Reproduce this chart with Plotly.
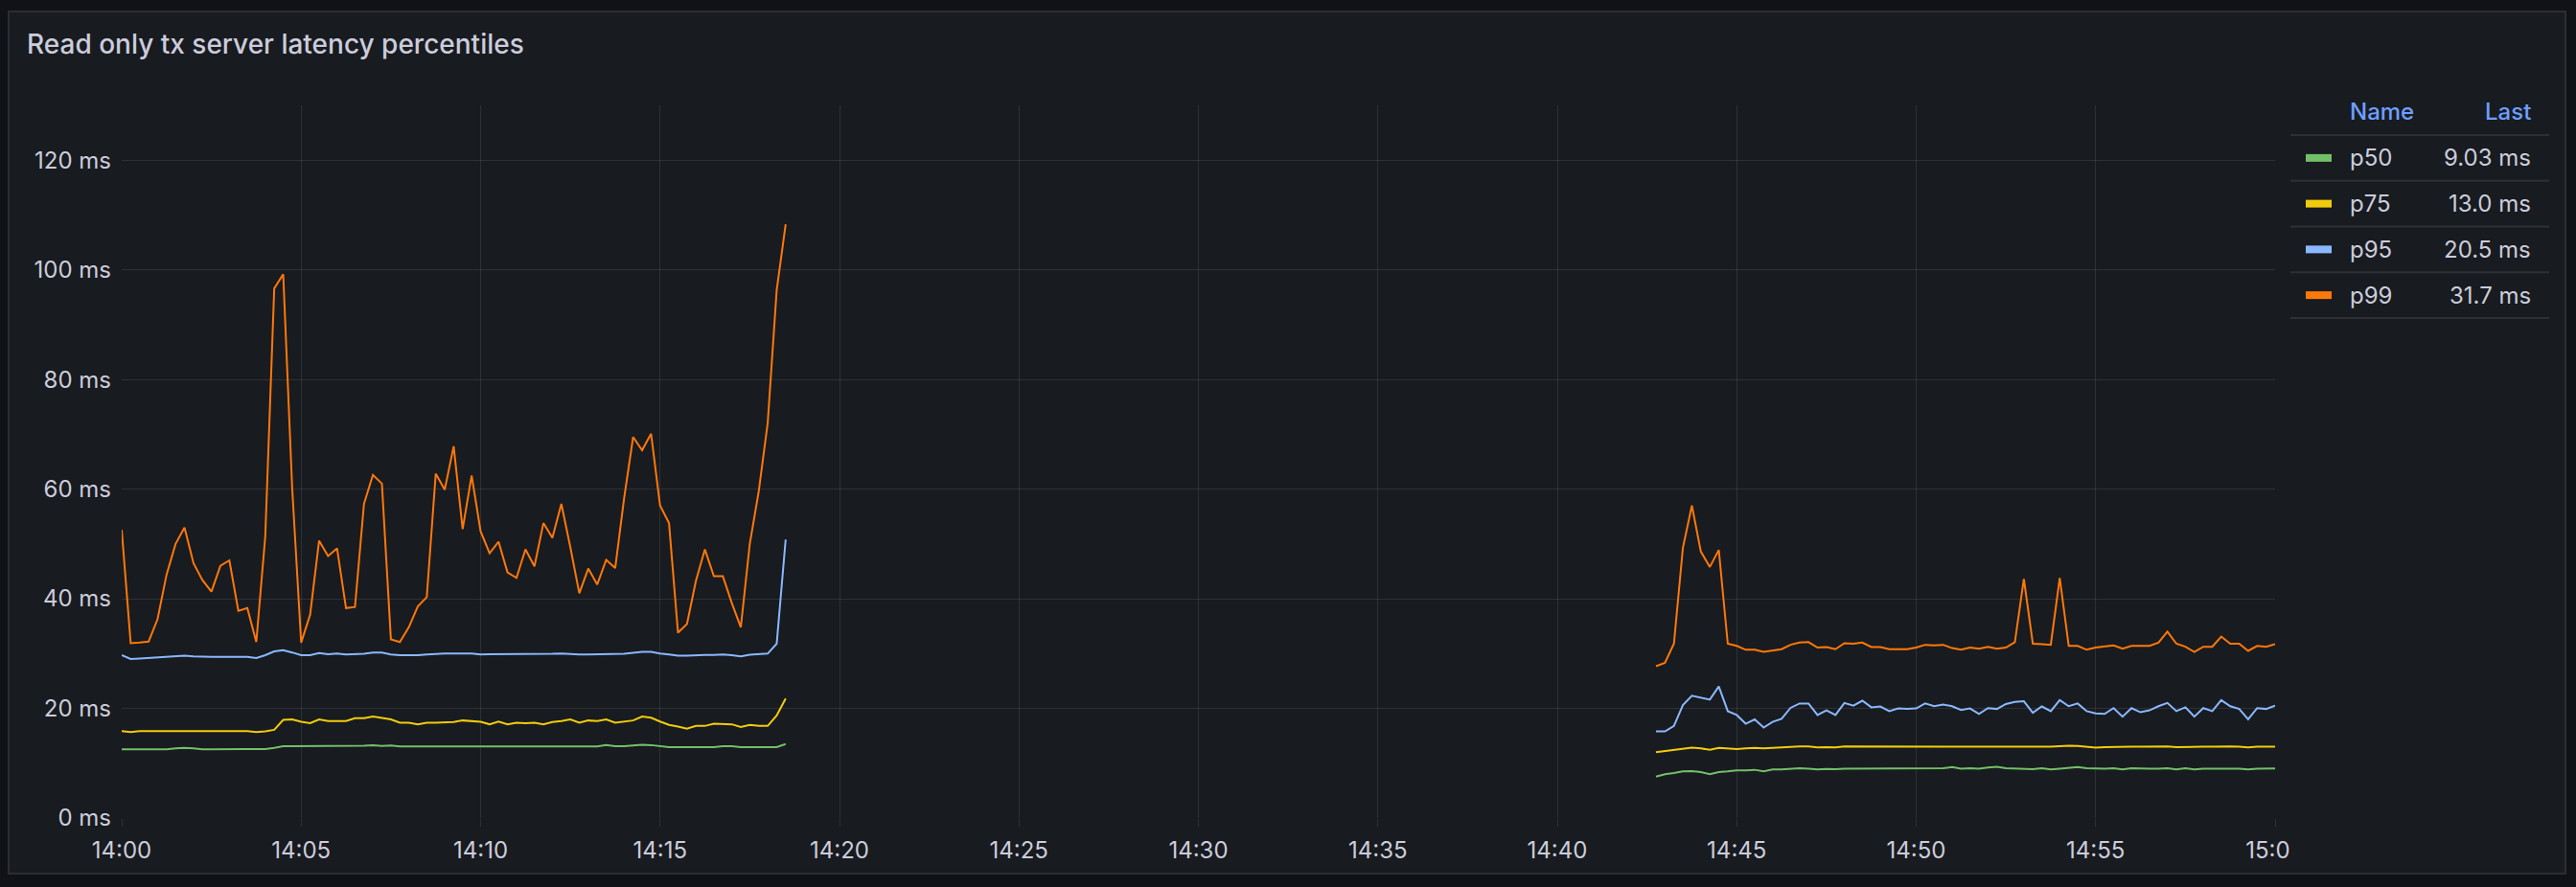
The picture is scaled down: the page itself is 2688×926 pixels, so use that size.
import math
import pandas as pd
import plotly.graph_objects as go

# ---- data ----
title = "Read only tx server latency percentiles"
series_names = ["p50", "p75", "p95", "p99"]
series_colors = ["#73BF69", "#F2CC0C", "#8AB8FF", "#FF780A"]

# two runs, 15 s scrape interval
t_run1 = pd.date_range("2024-01-01 14:00:00", "2024-01-01 14:18:30", freq="15s")
t_run2 = pd.date_range("2024-01-01 14:42:45", "2024-01-01 15:00:00", freq="15s")

p50_run1 = [12.55, 12.55, 12.55, 12.55, 12.55, 12.55, 12.7, 12.8, 12.7, 12.55,
            12.55, 12.55, 12.55, 12.55, 12.55, 12.55, 12.6, 12.8, 13.1, 13.1,
            13.1, 13.1, 13.1, 13.1, 13.1, 13.1, 13.1, 13.2, 13.3, 13.15,
            13.25, 13.05, 13.05, 13.05, 13.05, 13.05, 13.05, 13.05, 13.05, 13.05,
            13.05, 12.95, 13.05, 13.05, 13.05, 13.05, 13.05, 13.05, 13.0, 13.05,
            13.05, 13.05, 13.05, 13.05, 13.3, 13.1, 13.1, 13.2, 13.35, 13.3,
            13.1, 12.95, 12.95, 12.95, 12.95, 12.95, 12.95, 13.1, 13.1, 12.95,
            12.95, 12.95, 12.95, 12.95, 13.5]
p75_run1 = [15.86, 15.7, 15.86, 15.86, 15.86, 15.86, 15.86, 15.86, 15.86, 15.86,
            15.86, 15.86, 15.86, 15.86, 15.86, 15.7, 15.8, 16.1, 17.9, 18.0,
            17.55, 17.3, 18.0, 17.7, 17.7, 17.7, 18.2, 18.2, 18.5, 18.2,
            18.0, 17.4, 17.4, 17.1, 17.4, 17.4, 17.4, 17.5, 17.8, 17.7,
            17.55, 17.1, 17.6, 17.1, 17.4, 17.3, 17.4, 17.1, 17.5, 17.7,
            18.0, 17.4, 17.8, 17.7, 18.0, 17.4, 17.6, 17.8, 18.5, 18.3,
            17.6, 17.0, 16.7, 16.3, 16.8, 16.8, 17.2, 17.1, 17.1, 16.6,
            17.0, 16.8, 16.8, 18.7, 21.8]
p95_run1 = [29.7, 29.0, 29.1, 29.2, 29.3, 29.5, 29.6, 29.6, 29.5, 29.4,
            29.4, 29.4, 29.4, 29.4, 29.4, 29.2, 29.7, 30.4, 30.6, 30.2,
            29.7, 29.7, 30.1, 29.9, 30.0, 29.85, 29.85, 29.95, 30.2, 30.2,
            29.85, 29.7, 29.7, 29.7, 29.85, 29.95, 30.0, 30.0, 30.0, 30.0,
            29.85, 29.85, 29.85, 29.85, 29.85, 29.85, 29.85, 29.85, 29.95, 30.0,
            29.9, 29.85, 29.85, 29.85, 29.95, 29.85, 29.95, 30.15, 30.3, 30.3,
            30.0, 29.85, 29.6, 29.6, 29.7, 29.75, 29.75, 29.85, 29.7, 29.5,
            29.8, 29.85, 30.0, 31.8, 50.8]
p99_run1 = [52.6, 31.9, 32.0, 32.2, 36.3, 44.4, 50.0, 53.0, 46.5, 43.4,
            41.3, 46.0, 47.0, 37.8, 38.3, 32.1, 51.4, 96.6, 99.2, 60.2,
            32.0, 37.1, 50.6, 47.8, 49.2, 38.3, 38.5, 57.3, 62.6, 61.0,
            32.6, 32.1, 34.8, 38.6, 40.3, 62.8, 59.9, 67.8, 52.7, 62.5,
            52.3, 48.3, 50.4, 44.8, 43.8, 49.0, 45.9, 53.8, 51.1, 57.3,
            49.4, 41.0, 45.5, 42.6, 47.1, 45.6, 58.4, 69.5, 67.1, 70.1,
            57.0, 53.8, 33.8, 35.4, 43.3, 49.0, 44.1, 44.1, 39.2, 34.8,
            50.0, 59.6, 72.1, 96.3, 108.3]

p50_run2 = [7.55, 8.0, 8.2, 8.5, 8.55, 8.4, 8.0, 8.4, 8.5, 8.7,
            8.7, 8.8, 8.5, 8.85, 8.85, 8.95, 9.1, 9.0, 8.85, 8.95,
            8.9, 9.0, 9.0, 9.1, 9.0, 9.1, 9.1, 9.1, 9.1, 9.0,
            9.1, 9.0, 9.1, 9.3, 9.0, 9.1, 9.0, 9.2, 9.35, 9.1,
            9.0, 8.95, 8.9, 9.1, 8.85, 9.0, 9.15, 9.3, 9.1, 9.0,
            9.0, 9.1, 8.85, 9.1, 9.0, 9.0, 9.0, 9.1, 8.85, 9.1,
            8.85, 9.0, 9.0, 9.05, 9.0, 9.0, 8.85, 9.0, 9.03, 9.03]
p75_run2 = [12.0, 12.2, 12.5, 12.7, 12.85, 12.7, 12.45, 12.8, 12.7, 12.6,
            12.7, 12.8, 12.7, 12.8, 12.85, 13.0, 13.05, 13.05, 12.9, 12.95,
            12.9, 13.05, 13.05, 13.05, 13.05, 13.05, 13.05, 13.05, 13.05, 13.05,
            13.05, 13.05, 13.05, 13.05, 13.05, 13.05, 12.95, 13.05, 13.0, 13.0,
            13.0, 12.95, 12.95, 13.05, 13.0, 13.1, 13.2, 13.15, 12.95, 12.85,
            12.95, 13.0, 12.95, 13.0, 13.0, 13.05, 13.05, 13.05, 12.95, 13.0,
            12.95, 13.0, 13.0, 13.05, 13.05, 13.0, 12.9, 13.0, 13.05, 13.0]
p95_run2 = [15.8, 15.8, 16.8, 20.6, 22.3, 22.0, 21.6, 24.0, 19.5, 18.8,
            17.2, 18.0, 16.5, 17.55, 18.1, 20.1, 20.9, 20.9, 18.8, 19.65,
            18.8, 21.0, 20.5, 21.4, 20.2, 20.35, 19.5, 20.0, 19.9, 20.0,
            20.9, 20.4, 20.7, 20.4, 19.7, 20.0, 19.0, 20.05, 19.9, 20.8,
            21.2, 21.3, 19.2, 20.35, 19.5, 21.5, 20.4, 20.9, 19.5, 19.1,
            19.0, 20.05, 18.5, 20.05, 19.3, 19.65, 20.4, 21.0, 19.5, 20.2,
            18.5, 20.05, 19.5, 21.5, 20.4, 19.9, 18.0, 20.05, 19.9, 20.5]
p99_run2 = [27.7, 28.3, 31.8, 49.3, 57.0, 48.6, 45.8, 48.9, 31.8, 31.4,
            30.7, 30.7, 30.3, 30.5, 30.8, 31.6, 32.0, 32.1, 31.1, 31.2,
            30.8, 31.9, 31.8, 32.0, 31.2, 31.2, 30.8, 30.8, 30.8, 31.1,
            31.6, 31.5, 31.6, 31.0, 30.7, 31.1, 30.9, 31.25, 30.9, 31.1,
            32.1, 43.6, 31.8, 31.7, 31.6, 43.8, 31.4, 31.4, 30.7, 31.1,
            31.25, 31.5, 30.9, 31.4, 31.4, 31.4, 32.0, 34.0, 31.8, 31.25,
            30.3, 31.25, 31.25, 33.1, 31.8, 31.8, 30.5, 31.4, 31.25, 31.7]

run1 = [p50_run1, p75_run1, p95_run1, p99_run1]
run2 = [p50_run2, p75_run2, p95_run2, p99_run2]

y_ticks = [0, 20, 40, 60, 80, 100, 120]
y_tick_labels = [f"{v} ms" for v in y_ticks]

# ---- page geometry (pixels) ----
W, H = 2688, 926
L, R, T, B = 127, 2374, 110, 854


def px(x):
    return (x - L) / (R - L)


def py(y):
    return (B - y) / (B - T)


def fmt_ms(v):
    dec = max(0, 2 - int(math.floor(math.log10(abs(v)))))
    return f"{v:.{dec}f} ms"


TEXT = "#ccccdc"
GRID = "rgba(204,204,220,0.12)"
PANEL = "#181b1f"

fig = go.Figure()
for name, color, a, b in zip(series_names, series_colors, run1, run2):
    fig.add_trace(go.Scatter(
        x=list(t_run1) + [None] + list(t_run2),
        y=a + [None] + b,
        name=name, mode="lines",
        line=dict(color=color, width=2),
        connectgaps=False,
    ))

shapes = [
    # panel
    dict(type="rect", xref="paper", yref="paper", layer="below",
         x0=px(9), x1=px(2677), y0=py(912), y1=py(12),
         fillcolor=PANEL, line=dict(color="#2a2d33", width=2)),
    # canvas clip of the last x label
    dict(type="rect", xref="paper", yref="paper", layer="above",
         x0=px(2390), x1=px(2668), y0=py(906), y1=py(860),
         fillcolor=PANEL, line=dict(width=0)),
]
annotations = [
    dict(text=title, xref="paper", yref="paper", x=px(26), y=py(46),
         xanchor="left", yanchor="middle", showarrow=False,
         font=dict(family="Inter", size=28, color=TEXT, weight=500)),
    dict(text="Name", xref="paper", yref="paper", x=px(2450), y=py(116),
         xanchor="left", yanchor="middle", showarrow=False,
         font=dict(family="Inter", size=24, color="#6E9FFF", weight=500)),
    dict(text="Last", xref="paper", yref="paper", x=px(2643), y=py(116),
         xanchor="right", yanchor="middle", showarrow=False,
         font=dict(family="Inter", size=24, color="#6E9FFF", weight=500)),
]

# legend table
row_h = 47.75
for i in range(5):
    ly = 141 + row_h * i
    shapes.append(dict(type="line", xref="paper", yref="paper", layer="above",
                       x0=px(2390), x1=px(2660), y0=py(ly), y1=py(ly),
                       line=dict(color=GRID, width=2)))
for i, (name, color, b) in enumerate(zip(series_names, series_colors, run2)):
    cy = 141 + row_h * (i + 0.5)
    shapes.append(dict(type="rect", xref="paper", yref="paper", layer="above",
                       x0=px(2406), x1=px(2433), y0=py(cy + 4), y1=py(cy - 4),
                       fillcolor=color, line=dict(width=0)))
    annotations.append(dict(text=name, xref="paper", yref="paper", x=px(2450), y=py(cy),
                            xanchor="left", yanchor="middle", showarrow=False,
                            font=dict(family="Inter", size=24, color=TEXT)))
    annotations.append(dict(text=fmt_ms(b[-1]), xref="paper", yref="paper", x=px(2643), y=py(cy),
                            xanchor="right", yanchor="middle", showarrow=False,
                            font=dict(family="Inter", size=24, color=TEXT)))

fig.update_layout(
    width=W, height=H,
    margin=dict(l=L, r=W - R, t=T, b=H - B, pad=0),
    paper_bgcolor="#111217", plot_bgcolor=PANEL,
    font=dict(family="Inter", color=TEXT, size=24),
    showlegend=False,
    shapes=shapes, annotations=annotations,
    xaxis=dict(type="date", range=["2024-01-01 14:00:00", "2024-01-01 15:00:00"],
               tick0="2024-01-01 14:00:00", dtick=300000, tickformat="%H:%M",
               showgrid=True, gridcolor=GRID, gridwidth=1, zeroline=False, showline=False,
               ticks="outside", ticklen=8, tickcolor=GRID, tickwidth=1,
               ticklabelstandoff=4,
               tickfont=dict(family="Inter", size=24, color=TEXT)),
    yaxis=dict(range=[0, 130], tickmode="array", tickvals=y_ticks, ticktext=y_tick_labels,
               showgrid=True, gridcolor=GRID, gridwidth=1, zeroline=False, showline=False,
               ticks="", ticklabelstandoff=10,
               tickfont=dict(family="Inter", size=24, color=TEXT)),
)

fig.write_html("out.html", config={"displayModeBar": False},
               post_script="document.body.style.margin='0';")
